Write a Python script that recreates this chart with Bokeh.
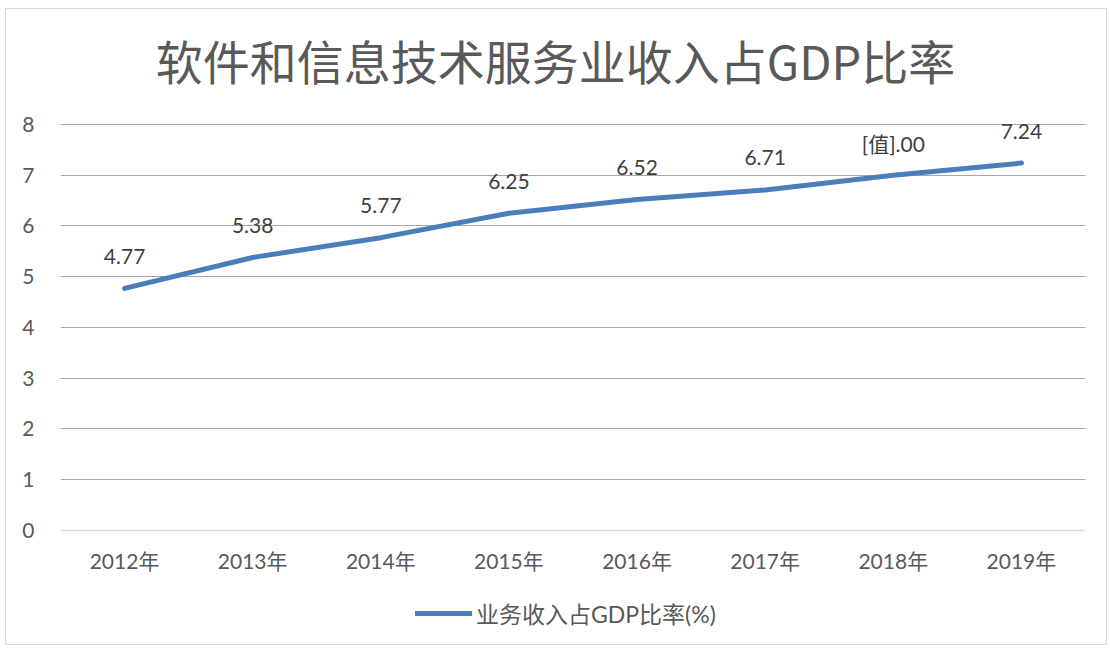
from bokeh.plotting import figure
from bokeh.models import (ColumnDataSource, Range1d, Label, Legend, LegendItem,
                          FixedTicker, LabelSet)
from bokeh.core.properties import value
from bokeh.embed import file_html
from bokeh.resources import INLINE

years = ["2012年", "2013年", "2014年", "2015年", "2016年", "2017年", "2018年", "2019年"]
ratio = [4.77, 5.38, 5.77, 6.25, 6.52, 6.71, 7.00, 7.24]
point_labels = ["4.77", "5.38", "5.77", "6.25", "6.52", "6.71", "[值].00", "7.24"]
y_ticks = [0, 1, 2, 3, 4, 5, 6, 7, 8]
grid_ticks = [1, 2, 3, 4, 5, 6, 7, 8]
title_text = "软件和信息技术服务业收入占GDP比率"
series_name = "业务收入占GDP比率(%)"

FONT = "Lato, 'Noto Sans CJK SC'"
CJK = "'Noto Sans CJK SC'"

src = ColumnDataSource(dict(x=years, y=ratio, lab=point_labels))

W, H = 1102, 637
p = figure(x_range=years, y_range=Range1d(-2.286, 10.266), width=W, height=H,
           output_backend="svg", toolbar_location=None,
           min_border_left=54, min_border_right=23, min_border_top=0,
           min_border_bottom=0)
p.styles = {"border": "1px solid #d9d9d9", "margin-left": "5px", "margin-top": "8px"}
p.outline_line_color = None
p.background_fill_color = "white"
p.border_fill_color = "white"

line = p.line("x", "y", source=src, line_color="#4a7ebb", line_width=5,
              line_cap="round", line_join="round")

labels = LabelSet(x="x", y="y", text="lab", source=src, text_align="center",
                  text_baseline="middle", y_offset=32, text_font_size="21px",
                  text_color="#404040", text_font=value(FONT))
p.add_layout(labels)

p.yaxis.ticker = FixedTicker(ticks=y_ticks)
p.ygrid.ticker = FixedTicker(ticks=grid_ticks)
p.ygrid.grid_line_color = "#a6a6a6"
p.ygrid.grid_line_width = 1
p.xgrid.grid_line_color = None

p.yaxis.axis_line_color = None
p.yaxis.major_tick_line_color = None
p.yaxis.minor_tick_line_color = None
p.yaxis.major_label_text_font_size = "21px"
p.yaxis.major_label_text_color = "#595959"
p.yaxis.major_label_text_font = FONT
p.yaxis.major_label_standoff = 20

p.xaxis.fixed_location = 0
p.xaxis.axis_line_color = "#d9d9d9"
p.xaxis.axis_line_width = 1.5
p.xaxis.major_tick_line_color = None
p.xaxis.minor_tick_line_color = None
p.xaxis.major_label_text_font_size = "21px"
p.xaxis.major_label_text_color = "#595959"
p.xaxis.major_label_text_font = FONT
p.xaxis.major_label_standoff = 12

title = Label(x=495, y=587, x_units="screen", y_units="screen",
              text=title_text, text_align="center", text_baseline="middle",
              text_font_size="47px", text_color="#595959", text_font=CJK)
p.add_layout(title)

legend = Legend(items=[LegendItem(label=series_name, renderers=[line])],
                location=(355, 16), orientation="horizontal",
                glyph_width=57, glyph_height=20, padding=0, margin=0,
                label_text_font_size="23px", label_text_color="#595959",
                label_text_font=FONT, border_line_color=None,
                background_fill_alpha=0, label_standoff=4)
p.add_layout(legend)

open("out.html", "w").write(file_html(p, INLINE))
